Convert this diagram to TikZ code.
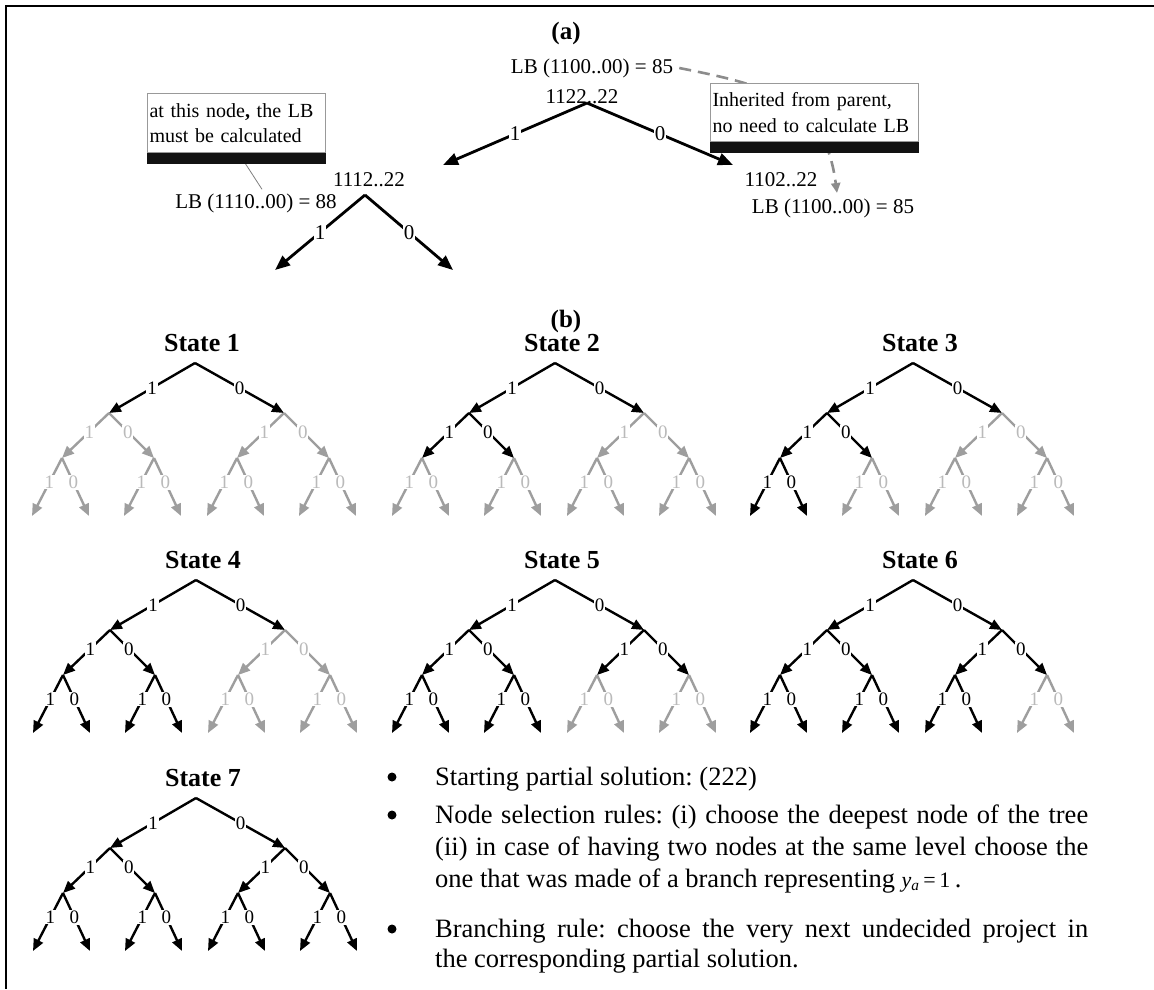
\documentclass[tikz,border=0pt]{standalone}
\usepackage{fontspec}
\setmainfont{Liberation Serif}
\usetikzlibrary{arrows.meta}
\frenchspacing
\newcommand\labfont{\fontsize{19}{19}\selectfont}
\newcommand\afont{\fontsize{21}{25.5}\selectfont}
\newcommand\boxfont{\fontsize{20}{25.5}\selectfont}
\newcommand\hfont{\fontsize{25}{25}\selectfont\bfseries}
\newcommand\tfont{\fontsize{26}{26}\selectfont\bfseries}
\newcommand\bulfont{\fontsize{26.5}{31}\selectfont}
\colorlet{edgegray}{black!38}
\colorlet{labgray}{black!27}
\tikzset{
  edgeB/.style={draw=black, line width=2.4pt, -{Triangle[length=12pt,width=10pt]}},
  edgeG/.style={draw=edgegray, line width=2.4pt, -{Triangle[length=12pt,width=10pt]}},
  labB/.style={fill=white, inner sep=0.8pt, text=black, font=\labfont},
  labG/.style={fill=white, inner sep=0.8pt, text=labgray, font=\labfont},
  edgeA/.style={draw=black, line width=2.8pt, -{Triangle[length=15pt,width=12pt]}},
  labA/.style={fill=white, inner sep=0.8pt, font=\afont},
  txtA/.style={inner sep=1pt, font=\afont},
  dashA/.style={draw=black!45, line width=2.6pt, dash pattern=on 12pt off 7pt, -{Triangle[length=10pt,width=9pt]}},
  infobox/.style={draw=black!40, line width=1pt, fill=white, inner xsep=2pt, inner ysep=0pt, align=left, font=\boxfont, anchor=north west},
  btxt/.style={inner sep=0pt, anchor=base west, font=\bulfont},
  bul/.style={circle, fill=black, inner sep=0pt, minimum size=9pt},
}
\newcommand\stree[9]{%
  \coordinate (s#1r) at (#2);
  \node[font=\tfont, inner sep=0pt] (s#1t) at ([shift={(7,-20)}]s#1r) {State #1};
  \coordinate (s#1L) at ([shift={(-86,50)}]s#1r);
  \coordinate (s#1R) at ([shift={(89,50)}]s#1r);
  \coordinate (s#1LL) at ([shift={(-47,45)}]s#1L);
  \coordinate (s#1LR) at ([shift={(45,45)}]s#1L);
  \coordinate (s#1RL) at ([shift={(-47,45)}]s#1R);
  \coordinate (s#1RR) at ([shift={(45,45)}]s#1R);
  \coordinate (s#1LLa) at ([shift={(-30,58)}]s#1LL);
  \coordinate (s#1LLb) at ([shift={(27,58)}]s#1LL);
  \coordinate (s#1LRa) at ([shift={(-30,58)}]s#1LR);
  \coordinate (s#1LRb) at ([shift={(27,58)}]s#1LR);
  \coordinate (s#1RLa) at ([shift={(-30,58)}]s#1RL);
  \coordinate (s#1RLb) at ([shift={(27,58)}]s#1RL);
  \coordinate (s#1RRa) at ([shift={(-30,58)}]s#1RR);
  \coordinate (s#1RRb) at ([shift={(27,58)}]s#1RR);
  \draw[edge#3] (s#1r) -- node[lab#3, pos=0.5] {1} (s#1L);
  \draw[edge#3] (s#1r) -- node[lab#3, pos=0.5] {0} (s#1R);
  \draw[edge#4] (s#1L) -- node[lab#4, pos=0.42] {1} (s#1LL);
  \draw[edge#4] (s#1L) -- node[lab#4, pos=0.42] {0} (s#1LR);
  \draw[edge#5] (s#1R) -- node[lab#5, pos=0.42] {1} (s#1RL);
  \draw[edge#5] (s#1R) -- node[lab#5, pos=0.42] {0} (s#1RR);
  \draw[edge#6] (s#1LL) -- node[lab#6, pos=0.42] {1} (s#1LLa);
  \draw[edge#6] (s#1LL) -- node[lab#6, pos=0.42] {0} (s#1LLb);
  \draw[edge#7] (s#1LR) -- node[lab#7, pos=0.42] {1} (s#1LRa);
  \draw[edge#7] (s#1LR) -- node[lab#7, pos=0.42] {0} (s#1LRb);
  \draw[edge#8] (s#1RL) -- node[lab#8, pos=0.42] {1} (s#1RLa);
  \draw[edge#8] (s#1RL) -- node[lab#8, pos=0.42] {0} (s#1RLb);
  \draw[edge#9] (s#1RR) -- node[lab#9, pos=0.42] {1} (s#1RRa);
  \draw[edge#9] (s#1RR) -- node[lab#9, pos=0.42] {0} (s#1RRb);
}
\begin{document}
\begin{tikzpicture}[x=1pt, y=-1pt]
\useasboundingbox (0,0) rectangle (1154,989);
\fill[white] (0,0) rectangle (1154,989);
\draw[line width=2pt] (1154,6) -- (6,6) -- (6,989);

% ---------- (a) ----------
\node[inner sep=1pt, font=\hfont] (ta) at (566,33) {(a)};
\node[txtA] (lbA) at (592,68) {LB (1100..00) = 85};
\node[txtA] (nA) at (582,97) {1122..22};
\coordinate (a0) at (587,103);
\coordinate (a1) at (443,165);
\coordinate (a2) at (733,165);
\draw[edgeA] (a0) -- node[labA] {1} (a1);
\draw[edgeA] (a0) -- node[labA] {0} (a2);
\node[txtA] (nB) at (369,180) {1112..22};
\node[txtA] (lbB) at (256,203) {LB (1110..00) = 88};
\coordinate (b0) at (365,195);
\coordinate (b1) at (275,270);
\coordinate (b2) at (453,270);
\draw[edgeA] (b0) -- node[labA] {1} (b1);
\draw[edgeA] (b0) -- node[labA] {0} (b2);
\node[txtA] (nC) at (781,180) {1102..22};
\node[txtA] (lbC) at (833,208) {LB (1100..00) = 85};
\coordinate (cEnd) at (837,193);
\draw[dashA] ([xshift=5pt]lbA.east) .. controls (770,86) and (825,100) .. (cEnd);
\node[infobox, minimum width=208pt, minimum height=58pt, text width=204pt] (boxR) at (710,83) {Inherited from parent,\\no need to calculate LB};
\fill[black!93] (boxR.south west) rectangle ([yshift=-11pt]boxR.south east);
\node[infobox, minimum width=178pt, minimum height=59pt, text width=174pt] (boxL) at (147,93) {at this node{\bfseries,} the LB\\must be calculated};
\draw[black!50, line width=0.8pt] ([xshift=2pt]boxL.south) -- ([xshift=6pt,yshift=3pt]lbB.north);
\fill[black!93] (boxL.south west) rectangle ([yshift=-11pt]boxL.south east);

% ---------- (b) ----------
\node[inner sep=1pt, font=\hfont] (tb) at (566,321) {(b)};
\stree{1}{195,363}{B}{G}{G}{G}{G}{G}{G}
\stree{2}{555,363}{B}{B}{G}{G}{G}{G}{G}
\stree{3}{913,363}{B}{B}{G}{B}{G}{G}{G}
\stree{4}{196,580}{B}{B}{G}{B}{B}{G}{G}
\stree{5}{555,580}{B}{B}{B}{B}{B}{G}{G}
\stree{6}{913,580}{B}{B}{B}{B}{B}{B}{G}
\stree{7}{196,798}{B}{B}{B}{B}{B}{B}{B}

% ---------- bullets ----------
\node[bul] (u1) at (392,777) {};
\node[bul] (u2) at (392,815) {};
\node[bul] (u3) at (392,929) {};
\node[btxt] (t1) at (435,785) {Starting partial solution: (222)};
\node[btxt] (t2) at (435,823) {\makebox[653pt][s]{Node selection rules: (i) choose the deepest node of the tree}};
\node[btxt] (t3) at (435,855) {\makebox[653pt][s]{(ii) in case of having two nodes at the same level choose the}};
\node[btxt] (t4) at (435,887) {one that was made of a branch representing {\fontsize{22}{22}\selectfont\textit{y}\textsubscript{\textit{a}}\,=\,1}\,.};
\node[btxt] (t5) at (435,937) {\makebox[653pt][s]{Branching rule: choose the very next undecided project in}};
\node[btxt] (t6) at (435,967) {the corresponding partial solution.};
\end{tikzpicture}
\end{document}
